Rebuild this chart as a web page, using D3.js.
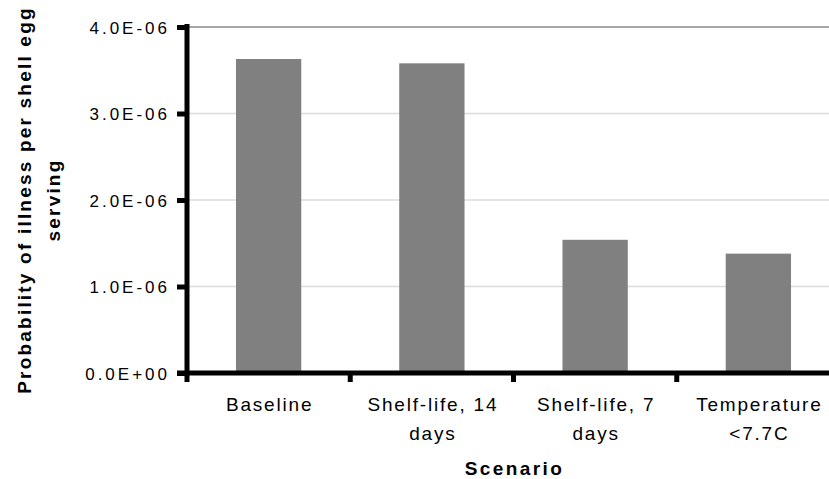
<!DOCTYPE html>
<html>
<head>
<meta charset="utf-8">
<script src="https://cdn.jsdelivr.net/npm/d3@7"></script>
<style>
  html, body { margin: 0; padding: 0; background: #fff; }
  svg { display: block; font-family: "Liberation Sans", Arial, sans-serif; }
</style>
</head>
<body>
<svg id="chart" width="829" height="479"></svg>
<script>
// ---- data ----
const categories = ["Baseline", "Shelf-life, 14 days", "Shelf-life, 7 days", "Temperature <7.7C"];
const categoryLines = [["Baseline"], ["Shelf-life, 14", "days"], ["Shelf-life, 7", "days"], ["Temperature", "<7.7C"]];
const values = [3.63e-6, 3.58e-6, 1.54e-6, 1.38e-6];
const yTicks = [0, 1e-6, 2e-6, 3e-6, 4e-6];
const yTickLabels = ["0.0E+00", "1.0E-06", "2.0E-06", "3.0E-06", "4.0E-06"];
const xTitle = "Scenario";
const yTitleLines = ["Probability of illness per shell egg", "serving"];

// ---- layout ----
const svg = d3.select("#chart");
const mLeft = 187, mRight = 840, mTop = 27, mBottom = 373;

const x = d3.scaleBand().domain(categories).range([mLeft, mRight]).paddingInner(0.6).paddingOuter(0.3);
const y = d3.scaleLinear().domain([0, 4e-6]).range([mBottom, mTop]);

// gridlines
svg.append("g").selectAll("line").data(yTicks.filter(d => d > 0)).join("line")
  .attr("x1", mLeft).attr("x2", mRight)
  .attr("y1", d => y(d)).attr("y2", d => y(d))
  .attr("stroke", d => d === 4e-6 ? "#8a8a8a" : "#dcdcdc")
  .attr("stroke-width", 1.6);

// bars
svg.append("g").selectAll("rect").data(values).join("rect")
  .attr("x", (d, i) => x(categories[i]))
  .attr("width", x.bandwidth())
  .attr("y", d => y(d))
  .attr("height", d => y(0) - y(d))
  .attr("fill", "#808080");

// y axis
const yAxis = d3.axisLeft(y).tickValues(yTicks).tickSize(10).tickPadding(7)
  .tickFormat((d, i) => yTickLabels[i]);
const gy = svg.append("g").attr("transform", `translate(${mLeft},0)`).call(yAxis);
gy.select(".domain").attr("d", `M0,${mTop - 3}V${mBottom}`).attr("stroke", "#000").attr("stroke-width", 5);
gy.selectAll(".tick line").attr("stroke", "#000").attr("stroke-width", 5);
gy.selectAll(".tick text")
  .attr("font-size", 17).attr("fill", "#000")
  .attr("font-family", "'Liberation Sans', Arial, sans-serif")
  .attr("letter-spacing", "3px")
  .attr("dy", "0.36em");

// x axis
const step = x.step();
const bounds = categories.map(c => x(c) - step * 0.3).concat([mRight]);
svg.append("line")
  .attr("x1", mLeft - 10).attr("x2", mRight)
  .attr("y1", mBottom).attr("y2", mBottom)
  .attr("stroke", "#000").attr("stroke-width", 5);
svg.append("g").selectAll("line").data(bounds).join("line")
  .attr("x1", d => d).attr("x2", d => d)
  .attr("y1", mBottom).attr("y2", mBottom + 9)
  .attr("stroke", "#000").attr("stroke-width", 5);

// category labels
const lab = svg.append("g").selectAll("text").data(categories).join("text")
  .attr("text-anchor", "middle")
  .attr("font-size", 19)
  .attr("letter-spacing", "1.8px")
  .attr("fill", "#000")
  .attr("transform", c => `translate(${x(c) + x.bandwidth() / 2 + 1},411)`);
lab.selectAll("tspan").data((c, i) => categoryLines[i]).join("tspan")
  .attr("x", 0).attr("y", (d, j) => j * 29).text(d => d);

// x title
svg.append("text")
  .attr("x", (mLeft + mRight) / 2 + 1).attr("y", 475)
  .attr("text-anchor", "middle")
  .attr("font-size", 19).attr("font-weight", "bold")
  .attr("letter-spacing", "2.4px")
  .text(xTitle);

// y title
const yt = svg.append("text")
  .attr("transform", `translate(31,${(mTop + mBottom) / 2}) rotate(-90)`)
  .attr("text-anchor", "middle")
  .attr("font-size", 19).attr("font-weight", "bold")
  .attr("letter-spacing", "2.2px");
yt.selectAll("tspan").data(yTitleLines).join("tspan")
  .attr("x", 0).attr("y", (d, j) => j * 29).text(d => d);
</script>
</body>
</html>
